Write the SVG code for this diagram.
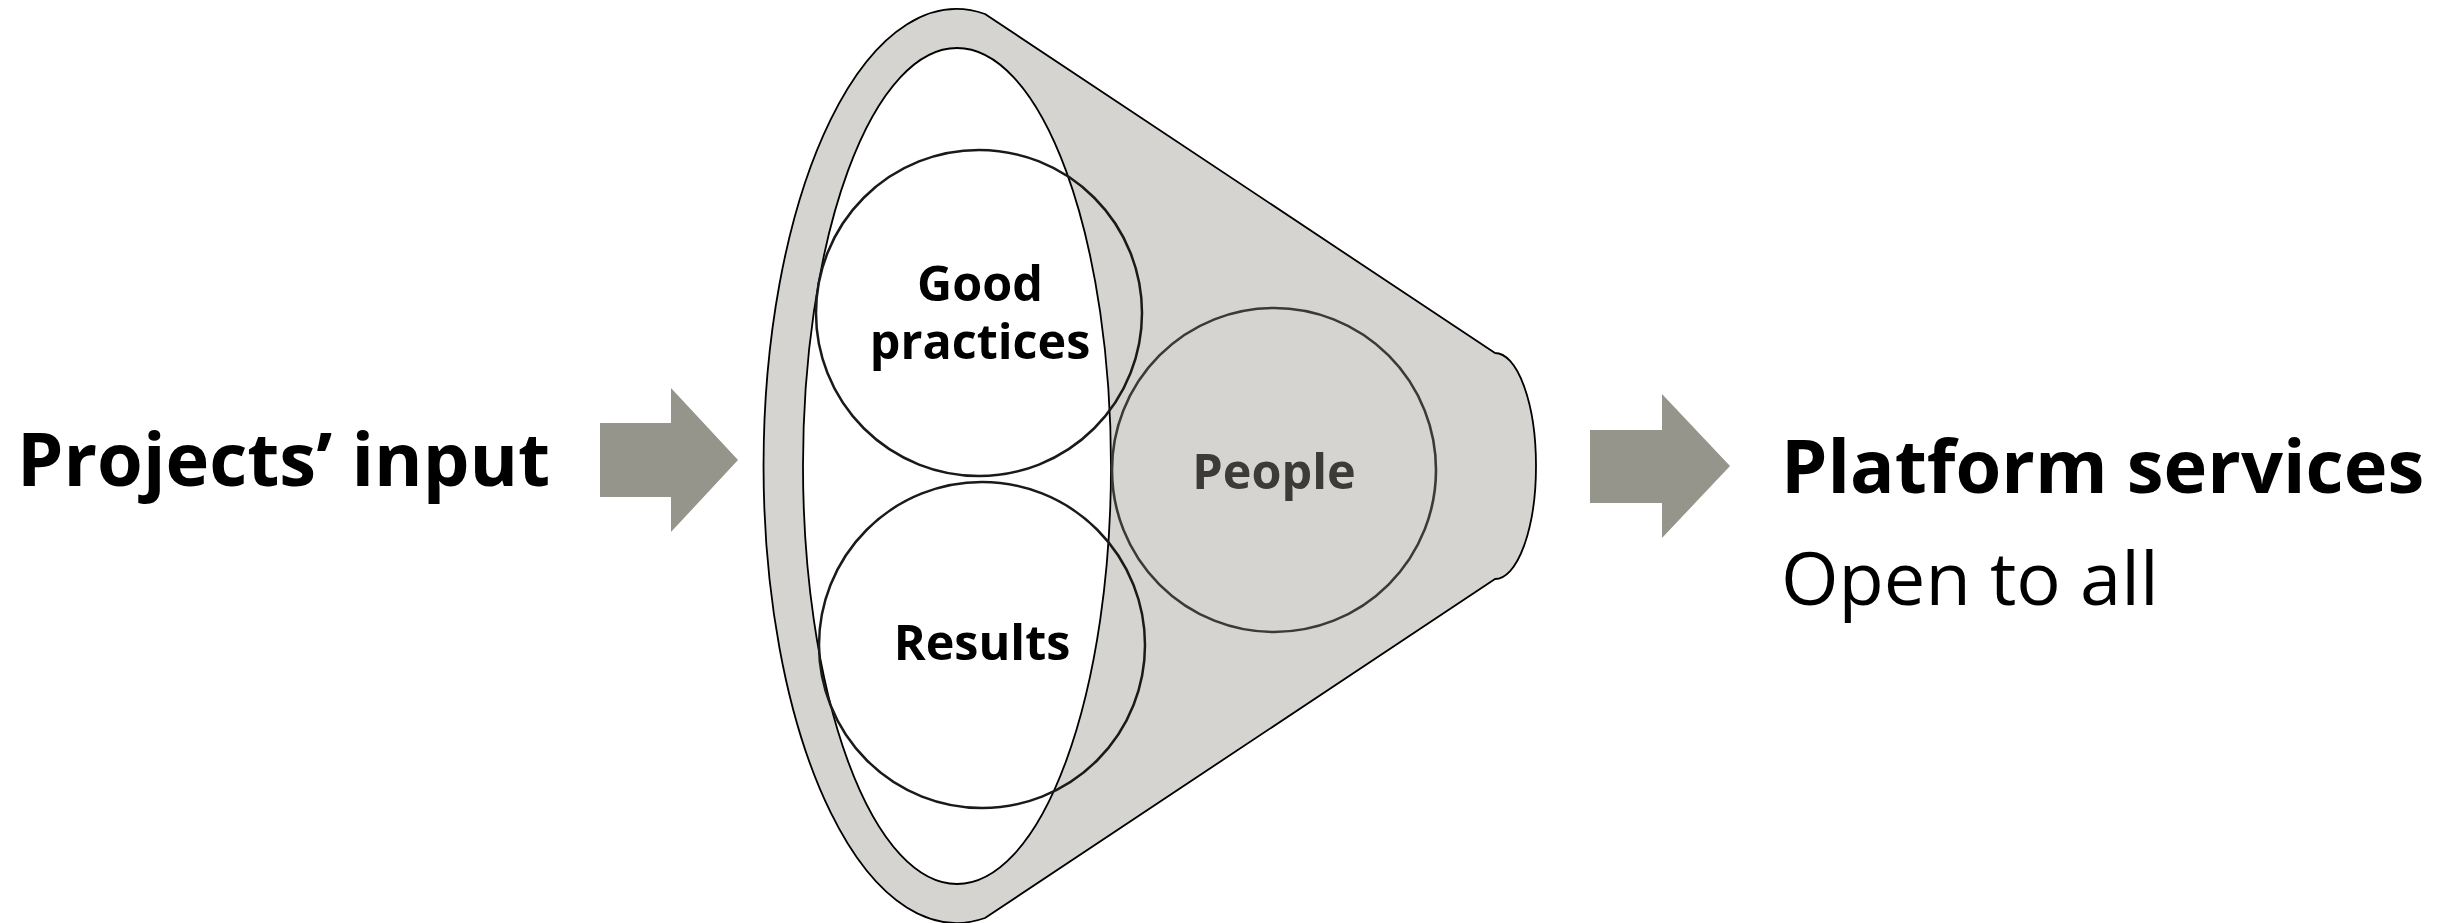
<svg xmlns="http://www.w3.org/2000/svg" width="2453" height="923" viewBox="0 0 2453 923">
<style>
.big{font-family:"Open Sans","Liberation Sans",sans-serif;font-size:74px;fill:#000}
.b{font-weight:700}
.r{font-weight:400}
.lbl{font-family:"Open Sans","Liberation Sans",sans-serif;font-size:48.5px;font-weight:700;text-anchor:middle;fill:#000}
.arrow{fill:#96958c}
.circ{fill:none;stroke:#1a1a1a;stroke-width:2.5}
</style>
<rect width="2453" height="923" fill="#fff"/>
<g id="funnel">
<path d="M985,14 L1495,353 A41,113 0 0 1 1495,579 L985,918 A193,457 0 1 1 985,14 Z" fill="#d5d4d0" stroke="#000" stroke-width="1.8" stroke-linejoin="round"/>
<ellipse cx="957" cy="466" rx="154" ry="418" fill="#fff" stroke="#000" stroke-width="1.8"/>
</g>
<g id="good-practices">
<circle class="circ" cx="979" cy="313" r="163"/>
<text class="lbl" x="980" y="301">Good</text>
<text class="lbl" x="980" y="359">practices</text>
</g>
<g id="results">
<circle class="circ" cx="982" cy="645" r="163"/>
<text class="lbl" x="982" y="660">Results</text>
</g>
<g id="people">
<circle cx="1274" cy="470" r="162" fill="none" stroke="#3a3a3a" stroke-width="2.6"/>
<text class="lbl" x="1274" y="489" style="fill:#3d3b38">People</text>
</g>
<g id="input">
<text class="big b" x="17" y="486">Projects’ input</text>
</g>
<g id="output">
<text class="big b" x="1781" y="493">Platform services</text>
<text class="big r" x="1781" y="605">Open to all</text>
</g>
<g id="connectors">
<polygon class="arrow" points="600,423 671,423 671,388 738,460 671,532 671,497 600,497"/>
<polygon class="arrow" points="1590,430 1662,430 1662,394 1730,466 1662,538 1662,503 1590,503"/>
</g>
</svg>
